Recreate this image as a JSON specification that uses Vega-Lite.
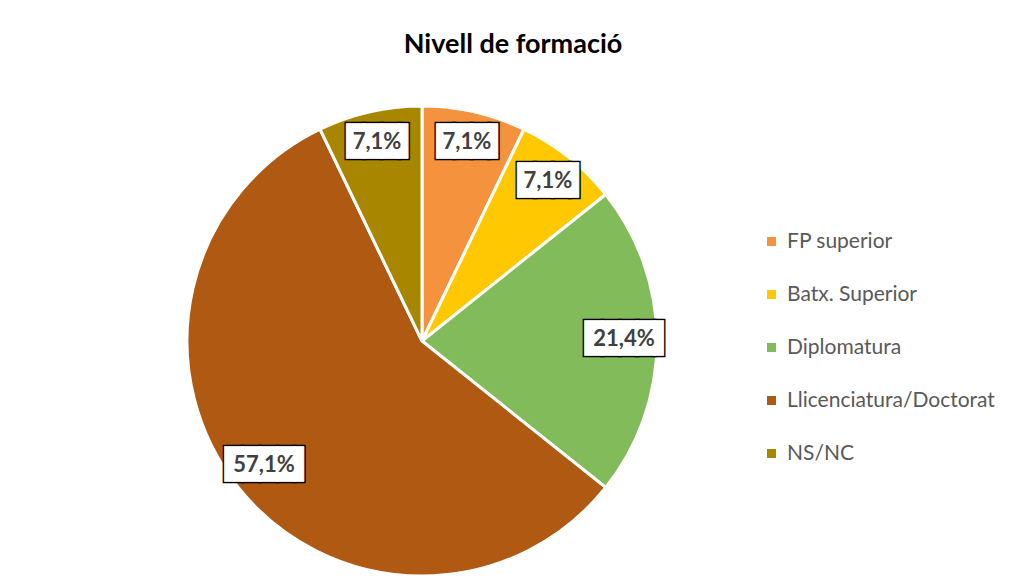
{
  "$schema": "https://vega.github.io/schema/vega-lite/v6.json",
  "width": 844,
  "height": 682,
  "autosize": {"type": "none"},
  "padding": {"left": 0, "top": 0, "right": 189, "bottom": -105},
  "background": "white",
  "config": {"view": {"stroke": null}},
  "title": {
    "text": "Nivell de formació",
    "font": "Lato",
    "fontSize": 27,
    "fontWeight": "bold",
    "color": "#000000",
    "anchor": "middle",
    "frame": "group",
    "dx": 91,
    "dy": 27,
    "offset": -53,
    "baseline": "alphabetic"
  },
  "data": {
    "values": [
      {"nivell": "FP superior", "n": 1, "etiqueta": "7,1%", "ordre": 1},
      {"nivell": "Batx. Superior", "n": 1, "etiqueta": "7,1%", "ordre": 2},
      {"nivell": "Diplomatura", "n": 3, "etiqueta": "21,4%", "ordre": 3},
      {"nivell": "Llicenciatura/Doctorat", "n": 8, "etiqueta": "57,1%", "ordre": 4},
      {"nivell": "NS/NC", "n": 1, "etiqueta": "7,1%", "ordre": 5}
    ]
  },
  "encoding": {
    "theta": {"field": "n", "type": "quantitative", "stack": true},
    "order": {"field": "ordre", "type": "quantitative"}
  },
  "layer": [
    {
      "mark": {"type": "arc", "outerRadius": 235, "stroke": "white", "strokeWidth": 3},
      "encoding": {
        "color": {
          "field": "nivell",
          "type": "nominal",
          "sort": ["FP superior", "Batx. Superior", "Diplomatura", "Llicenciatura/Doctorat", "NS/NC"],
          "scale": {
            "domain": ["FP superior", "Batx. Superior", "Diplomatura", "Llicenciatura/Doctorat", "NS/NC"],
            "range": ["#F5923E", "#FFC800", "#82BB5A", "#AF5912", "#A98600"]
          },
          "legend": {
            "orient": "none",
            "legendX": 761,
            "legendY": 231,
            "title": null,
            "symbolType": "square",
            "symbolSize": 81,
            "symbolStrokeWidth": 0,
            "labelFont": "Lato",
            "labelFontSize": 21,
            "labelColor": "#595959",
            "labelLimit": 400,
            "rowPadding": 31,
            "labelOffset": 5,
            "padding": 0
          }
        }
      }
    },
    {
      "mark": {"type": "text", "radius": 202, "font": "DejaVu Sans Mono", "fontSize": 29, "fill": "black", "stroke": "black", "strokeWidth": 4, "dx": 4.4, "dy": -2},
      "encoding": {
        "text": {"condition": {"test": "length(datum.etiqueta) > 4", "value": "████▌"}, "value": "███▌"}
      }
    },
    {
      "mark": {"type": "text", "radius": 202, "font": "DejaVu Sans Mono", "fontSize": 29, "fill": "white", "stroke": "white", "strokeWidth": 1, "dx": 4.4, "dy": -2},
      "encoding": {
        "text": {"condition": {"test": "length(datum.etiqueta) > 4", "value": "████▌"}, "value": "███▌"}
      }
    },
    {
      "mark": {"type": "text", "radius": 202, "font": "Lato", "fontSize": 22, "fontWeight": "bold", "fill": "#404040", "dy": -2},
      "encoding": {"text": {"field": "etiqueta", "type": "nominal"}}
    }
  ]
}
